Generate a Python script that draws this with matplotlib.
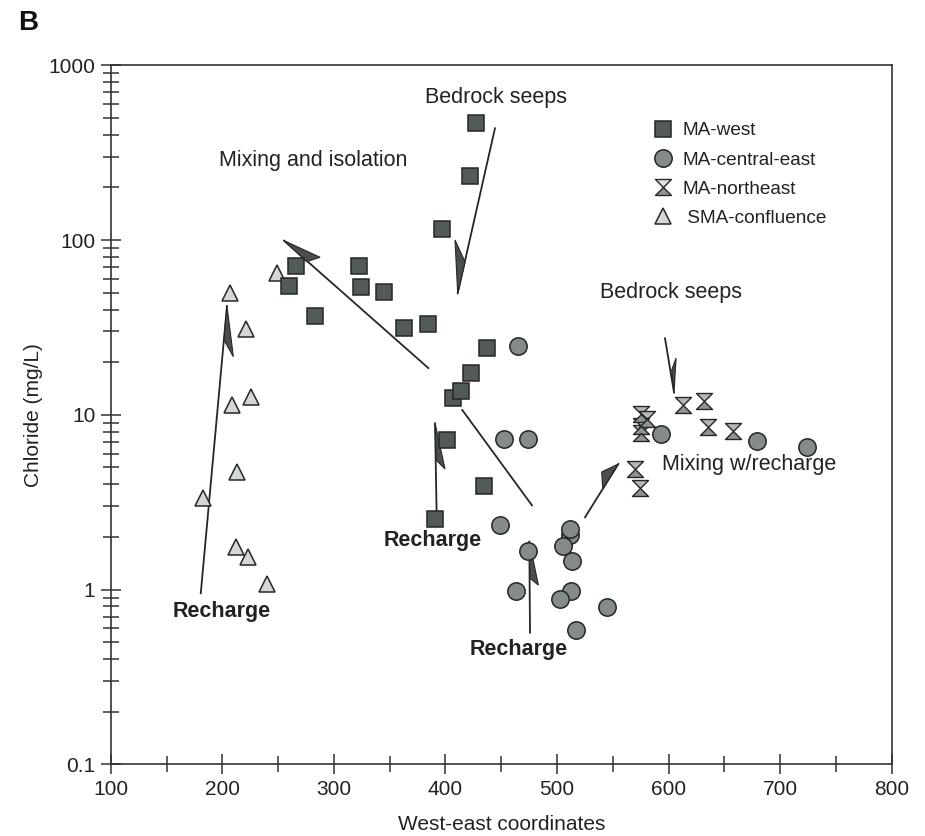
import matplotlib
matplotlib.use("Agg")
import matplotlib.pyplot as plt
from matplotlib.path import Path
from matplotlib.lines import Line2D
from matplotlib.legend_handler import HandlerTuple
from matplotlib.ticker import FixedLocator, NullFormatter, LogLocator

plt.rcParams['font.family'] = ['Liberation Sans', 'DejaVu Sans']

# ---------------- data ----------------
sma_x = [183.0, 206.9, 208.5, 212.9, 212.3, 221.0, 225.5, 223.3, 240.4, 248.8]
sma_y = [3.33, 49.6, 11.4, 4.73, 1.76, 31.0, 12.6, 1.54, 1.08, 64.5]

west_x = [266.1, 260.1, 283.1, 322.8, 324.3, 345.0, 362.9, 384.1, 427.2, 422.0,
          396.9, 437.5, 422.7, 407.1, 414.2, 401.2, 434.3, 390.7]
west_y = [71.3, 54.8, 36.8, 71.3, 54.1, 50.2, 31.5, 33.1, 465, 232.5,
          115.7, 24.0, 17.4, 12.4, 13.7, 7.17, 3.93, 2.53]

central_x = [465.1, 452.8, 473.7, 448.9, 474.3, 511.7, 511.7, 505.1, 513.2, 463.0,
             512.3, 503.0, 517.0, 544.8, 593.2, 679.0, 723.8]
central_y = [24.8, 7.27, 7.27, 2.35, 1.67, 2.05, 2.22, 1.78, 1.46, 0.985,
             0.985, 0.883, 0.587, 0.795, 7.73, 7.11, 6.57]

ne_x = [575.0, 580.9, 575.0, 575.0, 613.2, 632.0, 635.1, 657.5, 570.2, 574.4]
ne_y = [10.07, 9.42, 8.63, 7.84, 11.4, 12.0, 8.48, 8.08, 4.88, 3.80]

series_labels = ["MA-west", "MA-central-east", "MA-northeast", " SMA-confluence"]

x_ticks = [100, 200, 300, 400, 500, 600, 700, 800]
y_ticks = [0.1, 1, 10, 100, 1000]
y_tick_labels = ["0.1", "1", "10", "100", "1000"]

# annotation lines (data coordinates): (x0, y0, x1, y1)
ann_lines = [
    (180.7, 0.952, 204.2, 41.9),   # recharge (SMA)
    (384.7, 18.5, 255.3, 99.2),    # mixing and isolation
    (444.4, 436, 411.0, 49.6),     # bedrock seeps (top)
    (392.2, 2.50, 390.7, 8.94),    # recharge (MA-west)
    (415.1, 10.65, 477.6, 3.03),   # plain line
    (475.8, 0.566, 475.2, 1.88),   # recharge (central-east)
    (525.1, 2.59, 555.0, 5.23),    # mixing w/recharge
    (596.8, 27.4, 604.9, 13.4),    # bedrock seeps (right)
]
# half-arrow flags: triangles (x, y) triples
flags = [
    [(204.2, 41.9), (209.9, 21.5), (201.5, 26.8)],
    [(255.3, 99.2), (287.6, 79.7), (275.7, 75.2)],
    [(408.6, 100), (417.6, 74.9), (411.0, 49.6)],
    [(390.7, 8.94), (399.6, 4.90), (391.6, 5.51)],
    [(475.2, 1.88), (483.3, 1.06), (475.8, 1.16)],
    [(555.0, 5.23), (540.1, 4.71), (541.0, 3.76)],
    [(604.9, 13.4), (606.7, 21.1), (602.8, 18.0)],
]

texts = [
    ("Bedrock seeps", 445.3, 658, False),
    ("Mixing and isolation", 281.1, 283.5, False),
    ("Bedrock seeps", 602.2, 49.8, False),
    ("Mixing w/recharge", 672.1, 5.16, False),
    ("Recharge", 199.8, 0.744, True),
    ("Recharge", 389.0, 1.90, True),
    ("Recharge", 466.1, 0.451, True),
]

# ---------------- style ----------------
sq_face, sq_edge = '#535b59', '#262626'
ci_face = '#858b8b'
tri_face = '#d3d7d7'
hg_top, hg_bot = '#b4b8b8', '#8f9494'
edge = '#262626'
ms = 11.5

hg_top_path = Path([(-1, 1), (1, 1), (0, 0), (-1, 1)],
                   [Path.MOVETO, Path.LINETO, Path.LINETO, Path.CLOSEPOLY])
hg_bot_path = Path([(0, 0), (1, -1), (-1, -1), (0, 0)],
                   [Path.MOVETO, Path.LINETO, Path.LINETO, Path.CLOSEPOLY])

fig = plt.figure(figsize=(9.25, 8.36), dpi=100)
ax = fig.add_axes([0.1197, 0.0858, 0.8443, 0.8361])
ax.set_yscale('log')
ax.set_xlim(100, 800)
ax.set_ylim(0.1, 1000)

line_c = '#262626'
for (x0, y0, x1, y1) in ann_lines:
    ax.plot([x0, x1], [y0, y1], color=line_c, lw=1.3, zorder=2)
for f in flags:
    xs = [p[0] for p in f]
    ys = [p[1] for p in f]
    ax.fill(xs, ys, facecolor='#4a4f4e', edgecolor=line_c, lw=0.8, zorder=2)

ax.plot(sma_x, sma_y, ls='none', marker='^', ms=ms, mfc=tri_face, mec=edge, mew=1.1, zorder=3)
ax.plot(ne_x, ne_y, ls='none', marker=hg_top_path, ms=ms, mfc=hg_top, mec=edge, mew=1.0, zorder=3)
ax.plot(ne_x, ne_y, ls='none', marker=hg_bot_path, ms=ms, mfc=hg_bot, mec=edge, mew=1.0, zorder=3)
ax.plot(central_x, central_y, ls='none', marker='o', ms=ms + 1, mfc=ci_face, mec=edge, mew=1.1, zorder=3)
ax.plot(west_x, west_y, ls='none', marker='s', ms=ms, mfc=sq_face, mec=sq_edge, mew=1.1, zorder=3)

for (t, x, y, bold) in texts:
    ax.text(x, y, t, ha='center', va='center', fontsize=15.5,
            fontweight='bold' if bold else 'normal', color='#222222', zorder=4)

# legend
h_w = Line2D([], [], ls='none', marker='s', ms=ms, mfc=sq_face, mec=sq_edge, mew=1.1)
h_c = Line2D([], [], ls='none', marker='o', ms=ms + 1, mfc=ci_face, mec=edge, mew=1.1)
h_n1 = Line2D([], [], ls='none', marker=hg_top_path, ms=ms, mfc='#e0e2e2', mec=edge, mew=1.0)
h_n2 = Line2D([], [], ls='none', marker=hg_bot_path, ms=ms, mfc=hg_bot, mec=edge, mew=1.0)
h_t = Line2D([], [], ls='none', marker='^', ms=ms, mfc=tri_face, mec=edge, mew=1.1)
leg = ax.legend([h_w, h_c, (h_n1, h_n2), h_t], series_labels,
                handler_map={tuple: HandlerTuple(ndivide=1, pad=0)},
                loc='upper left', bbox_to_anchor=(0.695, 0.919), frameon=False,
                fontsize=13.7, handlelength=1.0, handletextpad=0.5,
                labelspacing=0.63, borderpad=0, borderaxespad=0)
for t in leg.get_texts():
    t.set_color('#222222')

# axes and ticks
ax.xaxis.set_major_locator(FixedLocator(x_ticks))
ax.xaxis.set_minor_locator(FixedLocator([150, 250, 350, 450, 550, 650, 750]))
ax.yaxis.set_major_locator(FixedLocator(y_ticks))
ax.set_yticklabels(y_tick_labels)
ax.yaxis.set_minor_locator(LogLocator(base=10, subs=range(2, 10)))
ax.yaxis.set_minor_formatter(NullFormatter())
ax.tick_params(which='both', direction='inout', top=False, right=False,
               color='#333333', width=1.1, labelsize=15, labelcolor='#222222')
ax.tick_params(which='major', length=14, pad=4)
ax.tick_params(which='minor', length=12)
for s in ax.spines.values():
    s.set_linewidth(1.2)
    s.set_color('#333333')

ax.set_xlabel("West-east coordinates", fontsize=15, color='#222222', labelpad=12)
ax.set_ylabel("Chloride (mg/L)", fontsize=15, color='#222222', labelpad=4)

fig.text(0.030, 0.973, "B", fontsize=20, fontweight='bold', ha='center', va='center', color='#111111')

fig.savefig("out.png", dpi=100)
